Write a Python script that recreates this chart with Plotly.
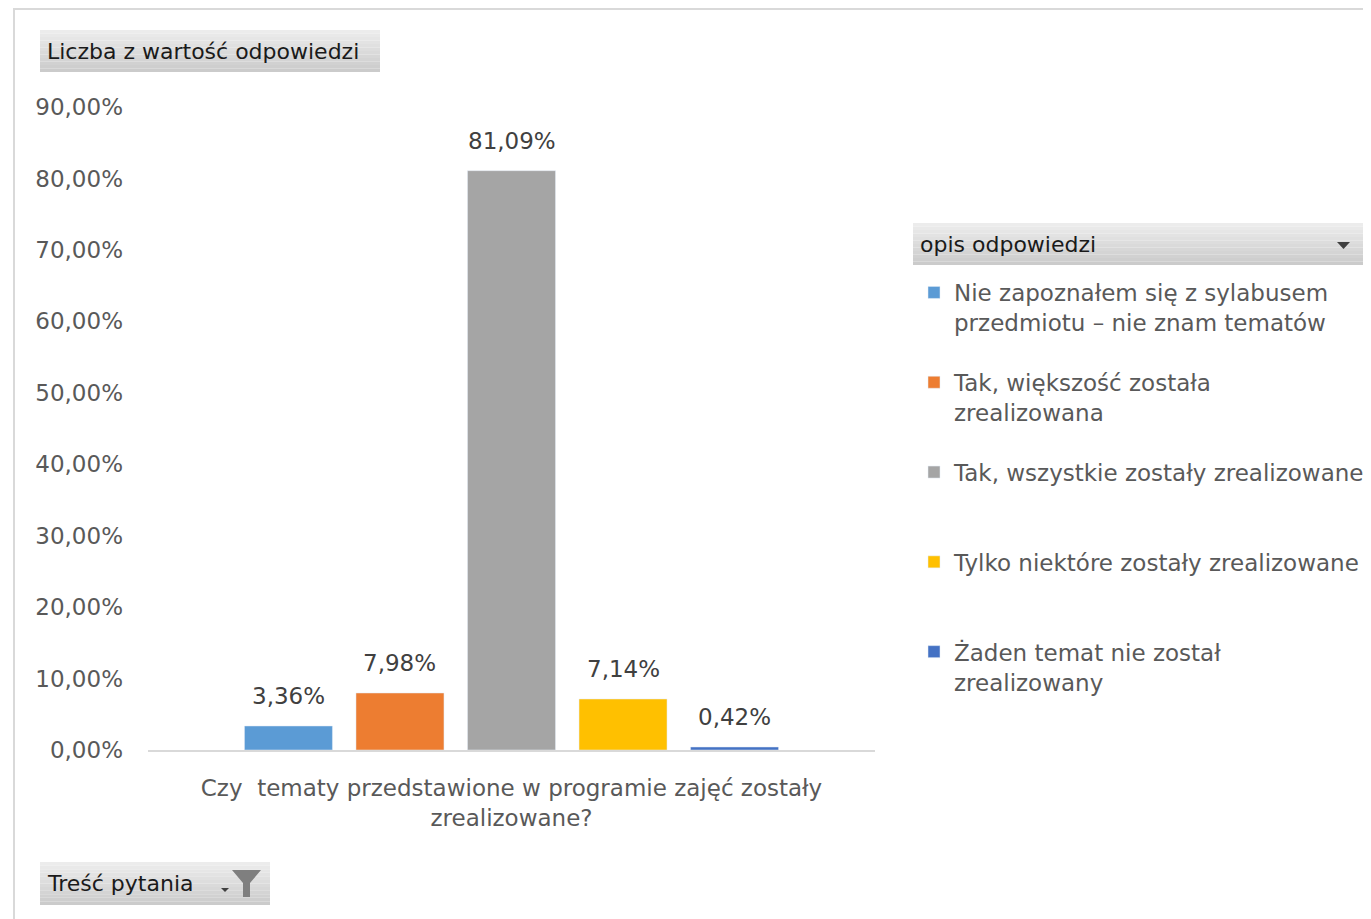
import plotly.graph_objects as go

# data
question = ["Czy  tematy przedstawione w programie zajęć zostały<br>zrealizowane?"]
answers = [
    "Nie zapoznałem się z sylabusem<br>przedmiotu – nie znam tematów",
    "Tak, większość została<br>zrealizowana",
    "Tak, wszystkie zostały zrealizowane<br> ",
    "Tylko niektóre zostały zrealizowane<br> ",
    "Żaden temat nie został<br>zrealizowany",
]
shares = [0.0336, 0.0798, 0.8109, 0.0714, 0.0042]
colors = ["#5b9bd5", "#ed7d31", "#a5a5a5", "#ffc000", "#4472c4"]

# page body has an 8px margin, so the figure starts at (8, 8) on screen
OFF = 8
W, H = 1371 - OFF, 919 - OFF
PL, PR, PT, PB = 148, 875, 107, 750  # plot area, screen pixels
FONT = "DejaVu Sans"
GREY = "#595959"
BARGAP = 0.233
FS = 23


def px(x):
    return (x - PL) / (PR - PL)


def py(y):
    return (PB - y) / (PB - PT)


def button(shapes, x0, y0, x1, y1):
    # excel-like vertical gradient
    n = 12
    for i in range(n):
        c = int(236 - (236 - 203) * i / (n - 1))
        ya = y0 + (y1 - y0) * i / n
        yb = y0 + (y1 - y0) * (i + 1) / n
        shapes.append(dict(type="rect", xref="paper", yref="paper",
                           x0=px(x0), x1=px(x1), y0=py(yb), y1=py(ya),
                           fillcolor=f"rgb({c},{c},{c})", line=dict(width=0),
                           layer="below"))


fig = go.Figure()
for name, val, col in zip(answers, shares, colors):
    fig.add_trace(go.Bar(
        x=question, y=[val], name=name, marker_color=col,
        legendgroup=name, cliponaxis=False,
    ))

# value labels above each bar of the group
annotations = []
slot = (1 - BARGAP) / len(shares)
for i, val in enumerate(shares):
    annotations.append(dict(
        x=(i - (len(shares) - 1) / 2) * slot, y=val, xref="x", yref="y",
        text=f"{val * 100:.2f}%".replace(".", ","), showarrow=False,
        yanchor="bottom", yshift=15,
        font=dict(family=FONT, size=FS, color="#404040"),
    ))

shapes = []
# outer frame
shapes.append(dict(type="rect", xref="paper", yref="paper",
                   x0=px(14), x1=px(1400), y0=py(940), y1=py(9),
                   line=dict(color="#d9d9d9", width=2), layer="below"))
button(shapes, 40, 30, 380, 72)
button(shapes, 913, 223, 1365, 265)
button(shapes, 40, 862, 270, 905)
# dropdown arrow in legend header
shapes.append(dict(type="path", xref="paper", yref="paper",
                   path=f"M {px(1337)},{py(242)} L {px(1350)},{py(242)} L {px(1343.5)},{py(249)} Z",
                   fillcolor="#404040", line=dict(width=0)))
# filter icon
shapes.append(dict(type="path", xref="paper", yref="paper",
                   path=(f"M {px(232)},{py(870)} L {px(261)},{py(870)} L {px(250)},{py(883)} "
                         f"L {px(250)},{py(897)} L {px(243)},{py(897)} L {px(243)},{py(883)} Z"),
                   fillcolor="#7f7f7f", line=dict(width=0)))
shapes.append(dict(type="path", xref="paper", yref="paper",
                   path=f"M {px(221)},{py(888)} L {px(229)},{py(888)} L {px(225)},{py(892)} Z",
                   fillcolor="#404040", line=dict(width=0)))

for label, xx, yy in [("Liczba z wartość odpowiedzi", 45, 51),
                      ("opis odpowiedzi", 918, 244),
                      ("Treść pytania", 45, 883)]:
    annotations.append(dict(text=label, x=px(xx), y=py(yy), xref="paper", yref="paper",
                            xanchor="left", yanchor="middle", showarrow=False,
                            font=dict(family=FONT, size=22, color="#1a1a1a")))

fig.update_layout(
    width=W, height=H,
    margin=dict(l=PL - OFF, r=1371 - PR, t=PT - OFF, b=919 - PB),
    plot_bgcolor="white", paper_bgcolor="white",
    separators=", ",
    barmode="group", bargap=BARGAP, bargroupgap=0.211,
    font=dict(family=FONT, size=FS, color=GREY),
    showlegend=True,
    legend=dict(
        xref="container", yref="container",
        x=(914 - OFF) / W, y=1 - (271 - OFF) / H, xanchor="left", yanchor="top",
        font=dict(family=FONT, size=FS, color=GREY),
        tracegroupgap=27, valign="top",
        bgcolor="rgba(0,0,0,0)",
    ),
    shapes=shapes,
    annotations=annotations,
)
fig.update_yaxes(range=[0, 0.9], dtick=0.1, tickformat=".2%", showgrid=False,
                 zeroline=False, showline=False, ticks="", ticklabelstandoff=24,
                 tickfont=dict(family=FONT, size=FS, color=GREY))
fig.update_xaxes(showline=True, linecolor="#d9d9d9", linewidth=2, ticks="",
                 tickfont=dict(family=FONT, size=FS, color=GREY), ticklabelstandoff=16)

fig.write_html("out.html")
